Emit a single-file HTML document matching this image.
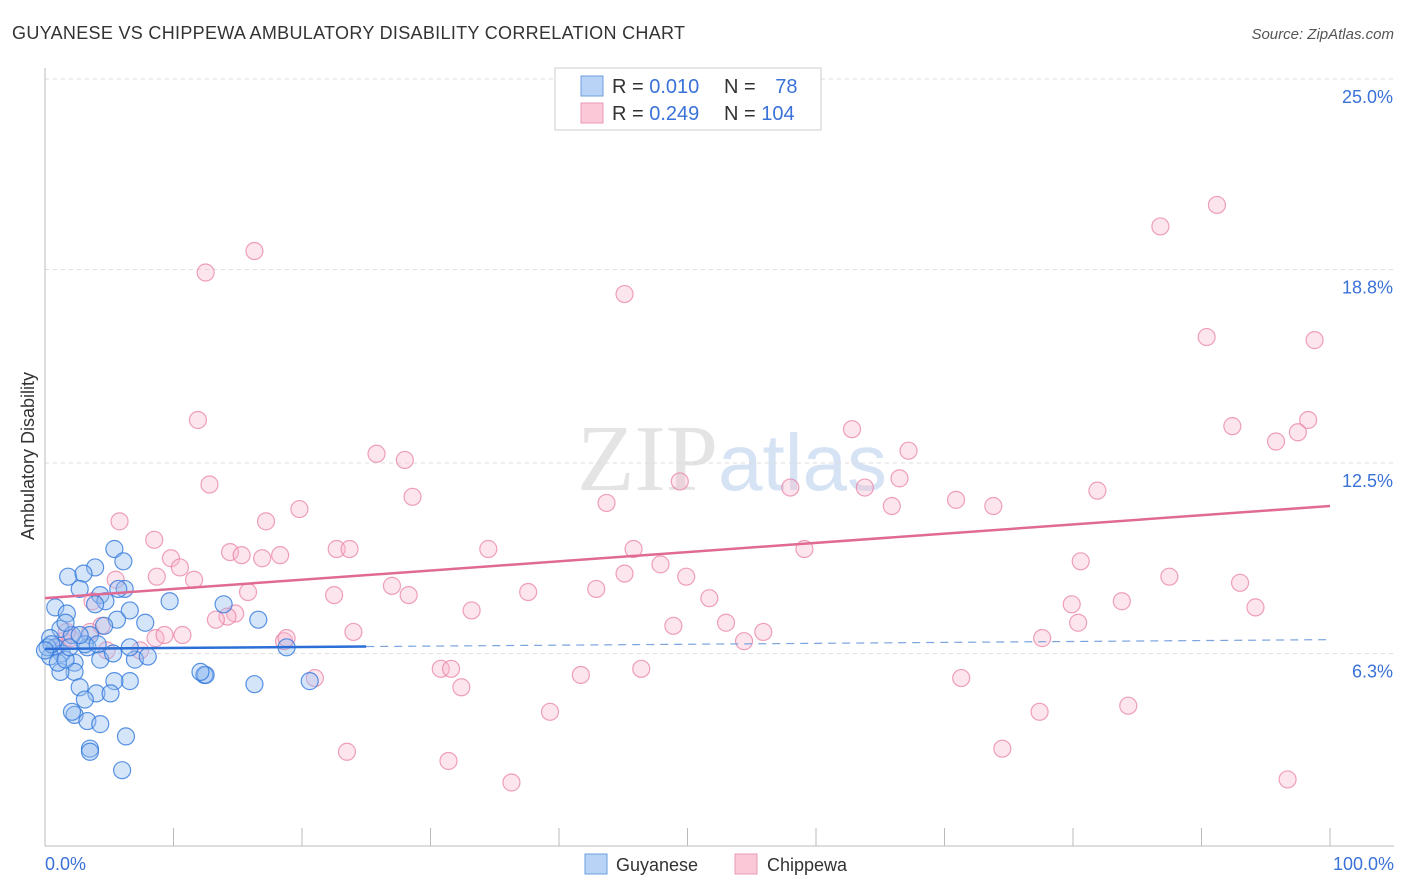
<!DOCTYPE html>
<html><head><meta charset="utf-8"><style>
body{margin:0;background:#fff;font-family:"Liberation Sans",sans-serif;}
#c{position:absolute;left:0;top:0;}
</style></head><body>
<svg id="c" width="1406" height="892">
<text x="12" y="39" font-size="18" fill="#333" textLength="673">GUYANESE VS CHIPPEWA AMBULATORY DISABILITY CORRELATION CHART</text>
<text x="1394" y="39" font-size="15" fill="#555" font-style="italic" text-anchor="end">Source: ZipAtlas.com</text>
<text x="718" y="490" font-size="94" fill="#e4e4e4" text-anchor="end" font-family="Liberation Serif">ZIP</text>
<text x="718" y="490" font-size="80" fill="#d6e3f5">atlas</text>
<g id="grid"></g>
<line x1="45" y1="68" x2="45" y2="846" stroke="#bbb"/>
<line x1="45" y1="846" x2="1394" y2="846" stroke="#bbb"/>
<text x="34" y="456" font-size="18" fill="#333" text-anchor="middle" transform="rotate(-90 34 456)">Ambulatory Disability</text>
<text x="45" y="870" font-size="18" fill="#3a72d8">0.0%</text>
<text x="1394" y="870" font-size="18" fill="#3a72d8" text-anchor="end">100.0%</text>
<g id="marks"></g>
<rect x="555" y="68" width="266" height="62" fill="#fff" stroke="#ccc"/>
<rect x="581" y="76" width="22" height="20" fill="#b8d3f5" stroke="#6e9de0"/>
<rect x="581" y="103" width="22" height="20" fill="#fbc8d8" stroke="#e89ab3"/>
<text x="612" y="93" font-size="20" fill="#333">R = <tspan fill="#3a72d8">0.010</tspan></text>
<text x="724" y="93" font-size="20" fill="#333">N = <tspan fill="#3a72d8" dx="14">78</tspan></text>
<text x="612" y="120" font-size="20" fill="#333">R = <tspan fill="#3a72d8">0.249</tspan></text>
<text x="724" y="120" font-size="20" fill="#333">N = <tspan fill="#3a72d8">104</tspan></text>
<rect x="585" y="854" width="22" height="20" fill="#b8d3f5" stroke="#6e9de0"/>
<text x="616" y="871" font-size="18" fill="#333">Guyanese</text>
<rect x="735" y="854" width="22" height="20" fill="#fbc8d8" stroke="#e89ab3"/>
<text x="767" y="871" font-size="18" fill="#333">Chippewa</text>
</svg>
<script>
const yTicks=[6.3,12.5,18.8,25.0];
const yTickLabels=["6.3%","12.5%","18.8%","25.0%"];
const xTickPct=[0,10,20,30,40,50,60,70,80,90,100];
const guyX=[5.4,6.1,1.8,3.9,3.0,0.8,1.7,2.7,4.3,4.7,6.6,5.6,7.8,9.7,13.9,16.6,4.6,3.5,1.2,2.1,0.4,0.8,1.3,0.4,2.3,4.3,7.0,8.0,6.6,3.3,3.1,12.4,12.5,18.8,16.3,20.6,6.6,5.4,2.3,1.2,2.7,4.0,5.1,3.1,2.3,2.1,3.3,4.3,6.3,3.5,3.5,6.0,0.2,0.5,1.0,1.6,0.0,1.9,6.2,5.7,4.1,5.3,12.1,2.7,1.6,3.9];
const guyY=[9.7,9.3,8.8,9.1,8.9,7.8,7.6,8.4,8.2,8.0,7.7,7.4,7.3,8.0,7.9,7.4,7.2,6.9,7.1,6.9,6.8,6.5,6.3,6.2,6.0,6.1,6.1,6.2,6.5,6.5,6.6,5.6,5.6,6.5,5.3,5.4,5.4,5.4,5.7,5.7,5.2,5.0,5.0,4.8,4.3,4.4,4.1,4.0,3.6,3.2,3.1,2.5,6.5,6.6,6.0,6.1,6.4,6.5,8.4,8.4,6.6,6.3,5.7,6.9,7.3,7.9];
const chipX=[91.2,86.8,16.3,12.5,45.1,90.4,98.8,11.9,98.3,92.4,62.8,97.5,95.8,67.2,25.8,28.0,12.8,49.4,58.0,63.8,66.5,28.6,43.7,70.9,73.8,81.9,65.9,19.8,17.2,5.8,8.5,14.4,34.5,45.8,59.1,22.7,23.7,15.3,16.9,18.3,9.8,10.5,80.6,47.9,5.5,8.7,11.6,27.0,28.3,22.5,37.6,45.1,49.9,42.9,87.5,93.0,3.7,15.8,14.8,14.2,13.3,83.8,79.9,51.7,94.2,33.2,4.4,8.6,9.3,10.7,18.6,24.0,18.8,48.9,53.0,55.9,54.4,80.4,77.6,4.8,0.9,1.4,2.0,1.7,30.8,31.6,32.4,41.7,46.4,21.0,71.3,39.3,77.4,84.3,23.5,31.4,74.5,36.3,96.7,3.5,7.4];
const chipY=[20.9,20.2,19.4,18.7,18.0,16.6,16.5,13.9,13.9,13.7,13.6,13.5,13.2,12.9,12.8,12.6,11.8,11.9,11.7,11.7,12.0,11.4,11.2,11.3,11.1,11.6,11.1,11.0,10.6,10.6,10.0,9.6,9.7,9.7,9.7,9.7,9.7,9.5,9.4,9.5,9.4,9.1,9.3,9.2,8.7,8.8,8.7,8.5,8.2,8.2,8.3,8.9,8.8,8.4,8.8,8.6,8.0,8.3,7.6,7.5,7.4,8.0,7.9,8.1,7.8,7.7,7.2,6.8,6.9,6.9,6.7,7.0,6.8,7.2,7.3,7.0,6.7,7.3,6.8,6.4,6.5,6.7,6.8,7.0,5.8,5.8,5.2,5.6,5.8,5.5,5.5,4.4,4.4,4.6,3.1,2.8,3.2,2.1,2.2,7.0,6.4];
const trendX=[0,100];
const chipTrend=[8.1,11.1];
const guyTrend=[6.45,6.75];
const guySolidEnd=25;

const NS="http://www.w3.org/2000/svg";
const X0=45,X1=1330,Y0=847,PXPER=192/6.25;
const xs=p=>X0+(X1-X0)*p/100;
const ys=v=>Y0-v*PXPER;
function mk(tag,attrs,parent){const e=document.createElementNS(NS,tag);for(const k in attrs)e.setAttribute(k,attrs[k]);parent.appendChild(e);return e;}
const grid=document.getElementById('grid');
yTicks.forEach((t,i)=>{
  const l=mk('line',{x1:45,x2:1394,y1:ys(t),y2:ys(t),stroke:'#ddd','stroke-dasharray':'4,4'},grid);
  
  
  const tx=mk('text',{x:1393,y:ys(t)+24,'font-size':18,fill:'#3a72d8','text-anchor':'end'},grid);
  tx.textContent=yTickLabels[i];
  
  
});
xTickPct.forEach(p=>{
  const l=mk('line',{x1:xs(p),x2:xs(p),y1:828,y2:846,stroke:'#bbb'},grid);
  
  
});
const marks=document.getElementById('marks');
chipX.forEach((x,i)=>{
  const c=mk('circle',{cx:xs(x),cy:ys(chipY[i]),r:8.5,fill:'rgba(248,180,202,0.35)',stroke:'rgba(232,130,165,0.75)','stroke-width':1.2},marks);
  
  
});
guyX.forEach((x,i)=>{
  const c=mk('circle',{cx:xs(x),cy:ys(guyY[i]),r:8.5,fill:'rgba(150,190,240,0.4)',stroke:'rgba(50,120,220,0.8)','stroke-width':1.2},marks);
  
  
});
const gAt=p=>guyTrend[0]+(guyTrend[1]-guyTrend[0])*p/100;
let l1=mk('line',{x1:xs(trendX[0]),y1:ys(chipTrend[0]),x2:xs(trendX[1]),y2:ys(chipTrend[1]),stroke:'#e06a94','stroke-width':2.5},marks);


let l2=mk('line',{x1:xs(0),y1:ys(gAt(0)),x2:xs(guySolidEnd),y2:ys(gAt(guySolidEnd)),stroke:'#2b6fd6','stroke-width':2.5},marks);


let l3=mk('line',{x1:xs(guySolidEnd),y1:ys(gAt(guySolidEnd)),x2:xs(100),y2:ys(gAt(100)),stroke:'#7aa3e0','stroke-width':1.2,'stroke-dasharray':'8,6'},marks);


</script>
</body></html>
